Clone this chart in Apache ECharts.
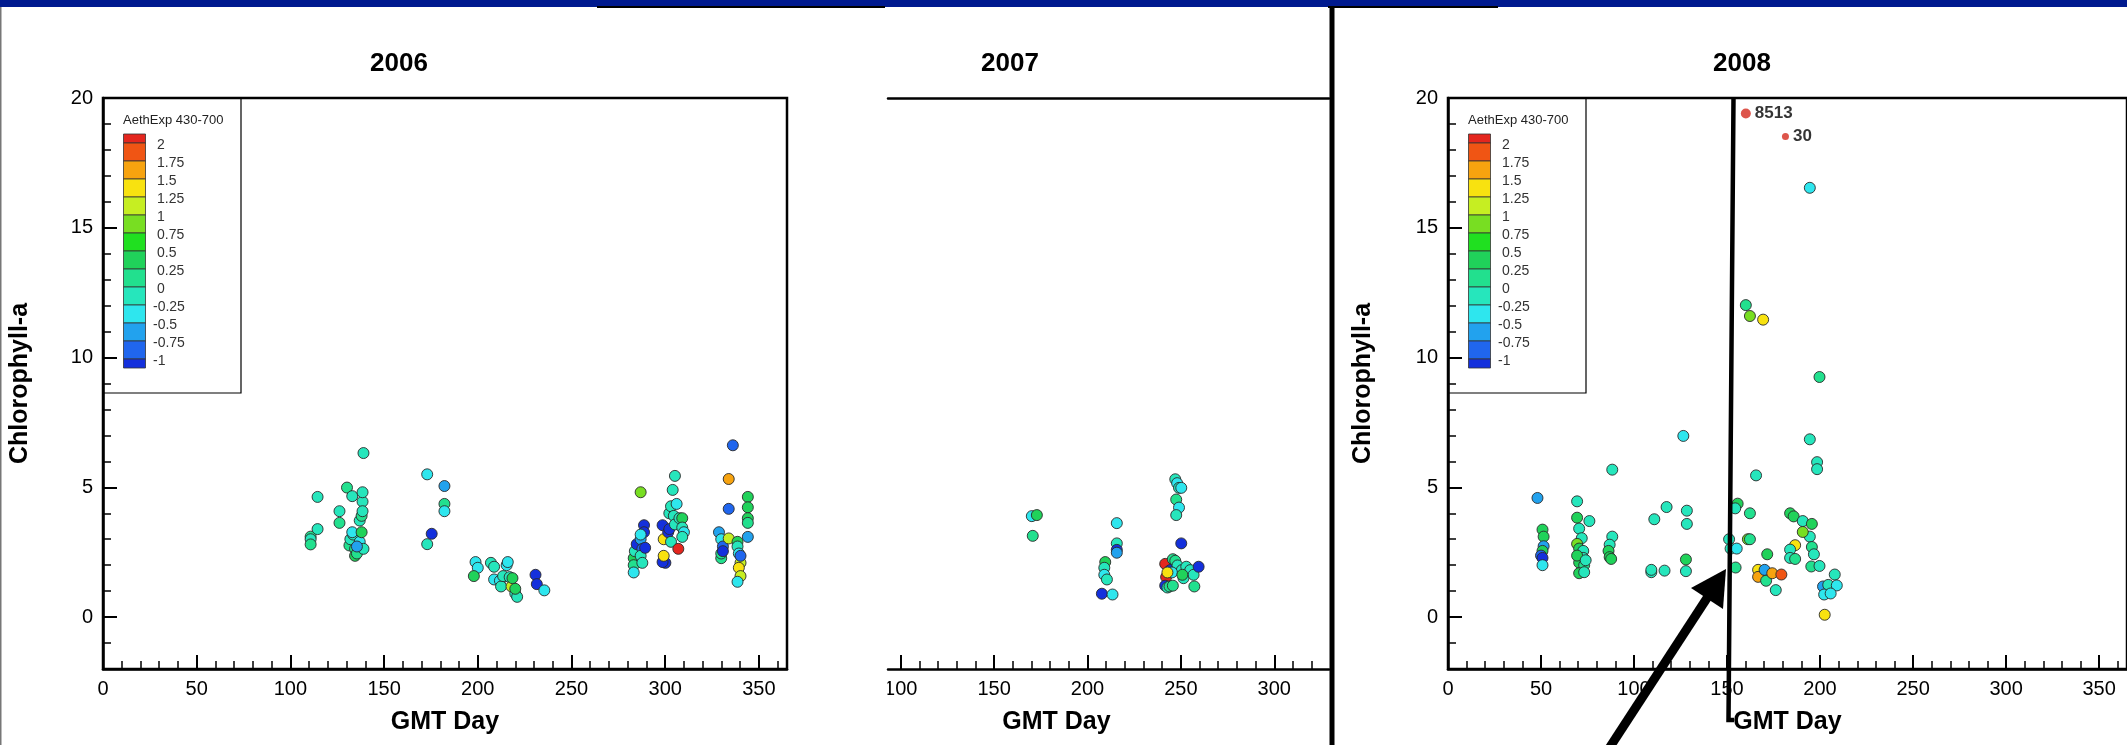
<!DOCTYPE html>
<html><head><meta charset="utf-8">
<script src="https://cdn.jsdelivr.net/npm/echarts@6/dist/echarts.min.js"></script>
<style>html,body{margin:0;padding:0;background:#fff;}#c{width:2127px;height:745px;}</style>
</head><body><div id="c"></div>
<script>
const FONT = '"Liberation Sans", Arial, Helvetica, sans-serif';
const yearTitles = ['2006', '2007', '2008'];
const majorDayTicks = [0, 50, 100, 150, 200, 250, 300, 350];
const minorDayTicks = [0,10,20,30,40,50,60,70,80,90,100,110,120,130,140,150,160,170,180,190,200,210,220,230,240,250,260,270,280,290,300,310,320,330,340,350,360];
const majorDayTicks2007 = [100, 150, 200, 250, 300];
const minorDayTicks2007 = [100,110,120,130,140,150,160,170,180,190,200,210,220,230,240,250,260,270,280,290,300,310,320];
const majorChlTicks = [0, 5, 10, 15, 20];
const minorChlTicks = [-1,0,1,2,3,4,5,6,7,8,9,10,11,12,13,14,15,16,17,18,19];
const legendTitle = 'AethExp 430-700';
const legendLabels = ['2','1.75','1.5','1.25','1','0.75','0.5','0.25','0','-0.25','-0.5','-0.75','-1'];
const levelValues = [2,1.75,1.5,1.25,1,0.75,0.5,0.25,0,-0.25,-0.5,-0.75,-1];
const bandColors = ['#e4261e','#f05514','#f7a30f','#f8e210','#c6ee22','#78de22','#20e020','#20d25a','#22e08e','#26e6bc','#2ee6ee','#22a2ee','#2066ee','#1430dc'];

// 2006
const day2006 = [110.8,110.8,110.8,114.5,114.5,126.2,126.2,130.2,133.0,131.5,132.0,133.5,134.5,134.5,135.5,133.0,137.0,138.0,137.0,138.0,138.5,138.5,138.5,139.0,139.0,135.5,
173.0,173.0,175.4,182.2,182.2,182.2,
198.8,200.0,197.9,207.0,208.7,208.7,211.8,212.4,213.5,215.4,216.0,217.0,218.0,218.5,220.0,221.0,220.0,230.8,231.5,235.5,
283.2,283.2,283.2,283.8,284.8,286.9,286.9,287.8,286.9,287.8,288.7,288.7,289.3,286.9,
298.6,300.1,298.6,299.2,299.2,301.6,302.2,303.1,302.2,303.1,304.0,305.2,304.6,305.2,306.1,307.0,307.6,309.1,309.1,310.0,309.1,
328.7,329.9,329.9,329.9,330.8,330.8,333.9,333.9,333.9,336.1,338.6,338.6,339.3,340.2,339.3,340.2,338.6,340.2,344.1,344.1,344.1,344.1,344.1];
const chl2006 = [3.1,3.0,2.8,4.63,3.39,4.08,3.63,4.99,4.66,2.76,3.0,3.18,2.63,2.36,2.45,3.27,2.9,3.27,3.72,3.9,4.45,4.81,4.08,2.63,6.32,2.72,
5.5,2.81,3.21,5.05,4.36,4.08,
2.12,1.9,1.58,2.09,1.94,1.45,1.4,1.18,1.58,2.0,2.12,1.54,1.18,1.5,0.91,0.78,1.09,1.63,1.27,1.03,
2.27,2.0,1.72,2.54,2.81,4.81,3.0,2.63,2.36,2.09,3.54,3.27,2.67,3.18,
3.54,2.09,2.12,3.0,2.36,3.27,3.39,2.9,4.0,4.27,4.9,5.44,3.9,3.57,4.36,2.63,3.81,3.81,3.45,3.27,3.09,
3.27,3.0,2.27,2.45,2.72,2.54,3.03,5.32,4.17,6.62,2.9,2.72,2.45,2.09,1.9,1.58,1.36,2.36,4.63,4.23,3.81,3.63,3.09];
const aeth2006 = [0.1,-0.1,0.1,-0.1,-0.1,-0.1,0.1,0.1,-0.1,0.1,-0.1,-0.1,0.1,0.4,0.1,-0.4,-0.4,0.4,-0.1,0.1,-0.1,-0.1,-0.1,-0.1,-0.1,-0.6,
-0.3,-0.1,-1.1,-0.6,0.1,-0.4,
-0.4,-0.4,0.4,-0.1,-0.1,-0.4,-0.4,-0.1,-0.1,-0.4,-0.4,-0.1,1.1,0.4,-0.1,-0.1,0.4,-1.1,-1.1,-0.4,
0.4,0.1,-0.4,-0.1,-1.3,0.9,-0.6,-0.9,-0.1,-0.1,-1.1,-1.1,-1.1,-0.4,
-1.1,-1.1,-1.1,1.4,1.4,-1.1,-1.1,-0.1,-0.1,-0.1,-0.1,-0.1,-0.1,-0.1,-0.4,2.2,-0.1,0.4,-0.1,-0.4,-0.1,
-0.6,-0.4,0.1,0.1,-0.9,-1.3,1.1,1.6,-0.9,-0.9,0.4,-0.1,-0.4,1.1,1.4,1.1,-0.4,-0.9,0.4,0.4,0.4,0.1,-0.6];

// 2007
const day2007 = [170.2,172.9,170.7,207.7,213.4,209.5,209.0,209.0,210.4,215.7,215.7,215.7,215.7,
247.0,248.0,249.0,250.2,247.5,249.0,247.5,250.2,241.6,242.1,241.6,242.8,243.9,245.7,245.7,244.3,247.0,248.2,250.5,251.4,252.9,255.0,256.8,257.2,259.5,245.2,242.8,250.8];
const chl2007 = [3.89,3.93,3.13,0.9,0.87,2.12,1.9,1.63,1.45,3.62,2.84,2.59,2.48,
5.31,5.16,4.98,4.98,4.53,4.22,3.93,2.84,2.05,1.54,1.21,1.14,1.18,1.21,2.23,1.81,2.17,1.99,1.81,1.5,1.94,1.81,1.63,1.18,1.94,1.72,1.72,1.63];
const aeth2007 = [-0.3,0.4,0.1,-1.1,-0.4,0.4,-0.1,-0.3,-0.1,-0.4,-0.1,-1.3,-0.6,
-0.1,-0.4,-0.1,-0.4,0.1,-0.4,-0.1,-1.1,2.2,2.2,-1.1,-0.1,0.1,0.1,0.1,-1.3,0.1,-0.1,-0.1,-0.1,-0.1,-0.1,-0.1,0.1,-1.1,-0.4,1.4,0.4];

// 2008
const day2008 = [194.5,160.1,162.3,169.4,199.7,126.5,194.5,198.4,198.4,88.3,165.6,48.1,69.4,117.5,110.9,128.4,128.4,155.7,154.4,162.3,183.9,185.8,190.7,195.6,194.5,190.7,186.6,183.9,183.9,186.6,195.6,196.7,195.3,199.7,207.9,201.6,204.4,209.0,202.2,205.7,202.5,
171.6,161.2,162.3,151.1,151.9,155.2,154.6,166.7,166.7,170.2,171.0,174.3,179.2,176.2,
50.8,51.4,51.4,50.8,50.0,50.8,50.8,69.4,70.5,76.0,71.9,69.4,70.5,72.7,72.7,70.5,73.2,70.5,73.2,69.4,74.0,
88.3,86.9,86.3,86.9,87.7,109.3,109.3,116.4,127.9,127.9];
const chl2008 = [16.54,12.02,11.6,11.46,9.25,6.98,6.85,5.97,5.7,5.68,5.46,4.59,4.46,4.24,3.77,4.1,3.59,4.37,4.19,4.0,4.0,3.88,3.7,3.59,3.1,3.28,2.77,2.6,2.28,2.24,2.7,2.42,1.95,1.97,1.64,1.18,1.24,1.22,0.87,0.91,0.09,
2.42,3.0,3.0,3.0,2.64,2.64,1.91,1.82,1.55,1.82,1.4,1.69,1.64,1.04,
3.37,3.1,2.73,2.55,2.37,2.28,2.0,3.83,3.41,3.7,3.04,2.82,2.64,2.55,2.28,2.1,2.0,1.69,1.73,2.37,2.19,
3.1,2.79,2.55,2.31,2.24,1.73,1.82,1.79,1.77,2.22];
const aeth2008 = [-0.4,0.1,0.9,1.4,0.1,-0.3,-0.1,-0.1,-0.1,-0.1,-0.1,-0.6,-0.1,-0.1,-0.1,-0.1,-0.1,0.4,-0.1,0.1,0.4,0.4,-0.1,0.4,-0.1,0.9,1.4,-0.1,-0.1,0.1,0.1,-0.1,0.1,-0.1,-0.1,-0.6,-0.1,-0.4,-0.4,-0.4,1.4,
0.4,0.9,0.1,-0.1,-0.1,-0.3,0.1,1.4,1.6,-0.6,0.1,1.6,1.9,-0.1,
0.4,0.4,-0.6,0.4,-0.9,-1.3,-0.4,0.4,-0.1,-0.1,-0.1,1.0,0.4,-0.1,-0.1,0.4,0.1,0.4,-0.1,0.4,-0.1,
-0.1,-0.1,0.4,0.4,0.4,-0.1,-0.1,-0.1,-0.1,0.4];

// labelled outliers 2008
const outlierDay = [160.1, 181.4];
const outlierChl = [19.4, 18.52];
const outlierNames = ['8513', '30'];

function pts(d, c, a) { return d.map((v, i) => [v, c[i], a[i]]); }

const gridTop = 98, gridH = 571;
const grids = [
  {left: 103, top: gridTop, width: 684, height: gridH, show: true, borderColor: '#000', borderWidth: 2.5},
  {left: 888, top: gridTop, width: 441, height: gridH, show: false},
  {left: 1448, top: gridTop, width: 681, height: gridH, show: true, borderColor: '#000', borderWidth: 2.5}
];

const nameStyle = {fontSize: 25, fontWeight: 'bold', color: '#000', fontFamily: FONT};
const labelStyle = {color: '#000', fontSize: 20, fontFamily: FONT};

function majorX(gi, min, max, labels, namePad) {
  return {type: 'value', gridIndex: gi, min: min, max: max, position: 'bottom',
    axisLine: {show: true, onZero: false, lineStyle: {color: '#000', width: 2.5}},
    axisTick: {show: true, inside: true, length: 14, customValues: labels, lineStyle: {color: '#000', width: 2}},
    axisLabel: Object.assign({show: true, margin: 10, customValues: labels, hideOverlap: false}, labelStyle),
    splitLine: {show: false},
    name: 'GMT Day', nameLocation: 'middle', nameGap: 41,
    nameTextStyle: Object.assign({padding: namePad}, nameStyle)};
}
function minorX(gi, min, max, ticks) {
  return {type: 'value', gridIndex: gi, min: min, max: max, position: 'bottom',
    axisLine: {show: false, onZero: false}, axisLabel: {show: false}, splitLine: {show: false},
    axisTick: {show: true, inside: true, length: 8, customValues: ticks, lineStyle: {color: '#000', width: 1.5}}};
}
function majorY(gi, gap) {
  return {type: 'value', gridIndex: gi, min: -2, max: 20, position: 'left',
    axisLine: {show: true, onZero: false, lineStyle: {color: '#000', width: 2.5}},
    axisTick: {show: true, inside: true, length: 14, customValues: majorChlTicks, lineStyle: {color: '#000', width: 2}},
    axisLabel: Object.assign({show: true, margin: 10, customValues: majorChlTicks}, labelStyle),
    splitLine: {show: false},
    name: 'Chlorophyll-a', nameLocation: 'middle', nameGap: gap, nameRotate: 90, nameTextStyle: nameStyle};
}
function minorY(gi) {
  return {type: 'value', gridIndex: gi, min: -2, max: 20, position: 'left',
    axisLine: {show: false, onZero: false}, axisLabel: {show: false}, splitLine: {show: false},
    axisTick: {show: true, inside: true, length: 8, customValues: minorChlTicks, lineStyle: {color: '#000', width: 1.5}}};
}

const min2007 = 93.2, max2007 = 329.3;
const xAxes = [
  majorX(0, 0, 365, majorDayTicks, 0),
  minorX(0, 0, 365, minorDayTicks),
  majorX(1, min2007, max2007, majorDayTicks2007, [0, 104, 0, 0]),
  minorX(1, min2007, max2007, minorDayTicks2007),
  {type: 'value', gridIndex: 1, min: min2007, max: max2007, position: 'top',
    axisLine: {show: true, onZero: false, lineStyle: {color: '#000', width: 2.5}},
    axisTick: {show: false}, axisLabel: {show: false}, splitLine: {show: false}},
  majorX(2, 0, 365, majorDayTicks, 0),
  minorX(2, 0, 365, minorDayTicks)
];
const yAxes = [
  majorY(0, 70), minorY(0),
  {type: 'value', gridIndex: 1, min: -2, max: 20, show: false, splitLine: {show: false}},
  majorY(2, 72), minorY(2)
];

const pieces = [{gt: levelValues[0], color: bandColors[0]}];
for (let k = 1; k < levelValues.length; k++) pieces.push({gt: levelValues[k], lte: levelValues[k - 1], color: bandColors[k]});
pieces.push({lte: levelValues[levelValues.length - 1], color: bandColors[bandColors.length - 1]});

const pointStyle = {borderColor: '#2a2a2a', borderWidth: 0.9, opacity: 1};
const series = [
  {type: 'scatter', xAxisIndex: 0, yAxisIndex: 0, symbolSize: 11, itemStyle: pointStyle, data: pts(day2006, chl2006, aeth2006)},
  {type: 'scatter', xAxisIndex: 2, yAxisIndex: 2, symbolSize: 11, itemStyle: pointStyle, data: pts(day2007, chl2007, aeth2007)},
  {type: 'scatter', xAxisIndex: 5, yAxisIndex: 3, symbolSize: 11, itemStyle: pointStyle, data: pts(day2008, chl2008, aeth2008)},
  {type: 'scatter', xAxisIndex: 5, yAxisIndex: 3,
    symbolSize: (v, p) => p.dataIndex === 0 ? 10 : 7,
    itemStyle: {color: '#d42a1e', borderWidth: 0},
    label: {show: true, position: 'right', distance: 4, formatter: p => p.name, color: '#000', fontWeight: 'bold', fontSize: 17, fontFamily: FONT},
    data: outlierDay.map((d, i) => ({name: outlierNames[i], value: [d, outlierChl[i]]}))}
];

function legendGraphic(x0) {
  const els = [];
  const boxH = 295, boxW = 138, barX = x0 + 20.5, barY = 134, barW = 22, halfH = 9, fullH = 18;
  els.push({type: 'rect', z: 5, shape: {x: x0, y: gridTop, width: boxW, height: boxH}, style: {fill: 'none', stroke: '#000', lineWidth: 1.2}});
  els.push({type: 'text', z: 5, x: x0 + 20, y: 120, style: {text: legendTitle, fill: '#222', fontSize: 13, fontFamily: FONT, verticalAlign: 'middle'}});
  for (let k = 0; k < bandColors.length; k++) {
    const y = k === 0 ? barY : barY + halfH + fullH * (k - 1);
    const h = (k === 0 || k === bandColors.length - 1) ? halfH : fullH;
    els.push({type: 'rect', z: 5, shape: {x: barX, y: y, width: barW, height: h}, style: {fill: bandColors[k], stroke: '#333', lineWidth: 0.8}});
  }
  for (let k = 0; k < legendLabels.length; k++) {
    els.push({type: 'text', z: 5, x: x0 + (levelValues[k] < 0 ? 50 : 54), y: barY + halfH + fullH * k + 2,
      style: {text: legendLabels[k], fill: '#333', fontSize: 14, fontFamily: FONT, verticalAlign: 'middle'}});
  }
  return els;
}

const deco = [
  {type: 'rect', z: 100, shape: {x: 0, y: 0, width: 2127, height: 7}, style: {fill: '#001a8f'}},
  {type: 'rect', z: 100, shape: {x: 597, y: 6, width: 288, height: 2}, style: {fill: '#000'}},
  {type: 'rect', z: 100, shape: {x: 1328, y: 6, width: 170, height: 2}, style: {fill: '#000'}},
  {type: 'rect', z: 100, shape: {x: 0, y: 7, width: 1.5, height: 738}, style: {fill: '#777'}},
  {type: 'rect', z: 100, shape: {x: 860, y: 676, width: 27.5, height: 30}, style: {fill: '#fff'}},
  {type: 'rect', z: 100, shape: {x: 1329.5, y: 6, width: 5, height: 739}, style: {fill: '#000'}},
  {type: 'polyline', z: 100, shape: {points: [[1733.5, 98], [1728.5, 720], [1734, 720]]}, style: {stroke: '#000', lineWidth: 4.5, fill: 'none', lineJoin: 'miter'}},
  {type: 'line', z: 100, shape: {x1: 1608, y1: 750, x2: 1709, y2: 595}, style: {stroke: '#000', lineWidth: 9}},
  {type: 'polygon', z: 100, shape: {points: [[1726, 569], [1691, 588], [1723, 609]]}, style: {fill: '#000'}}
];

const titleCenters = [399, 1010, 1742];
const titles = yearTitles.map((t, i) => ({text: t, left: titleCenters[i] - 29, top: 51, padding: 0,
  textStyle: {fontSize: 26, fontWeight: 'bold', color: '#000', fontFamily: FONT}}));

const chart = echarts.init(document.getElementById('c'), null, {renderer: 'canvas'});
chart.setOption({
  backgroundColor: '#fff',
  animation: false,
  title: titles,
  grid: grids,
  xAxis: xAxes,
  yAxis: yAxes,
  visualMap: {type: 'piecewise', show: false, dimension: 2, seriesIndex: [0, 1, 2], pieces: pieces},
  series: series,
  graphic: deco.concat(legendGraphic(103), legendGraphic(1448))
});
</script></body></html>
